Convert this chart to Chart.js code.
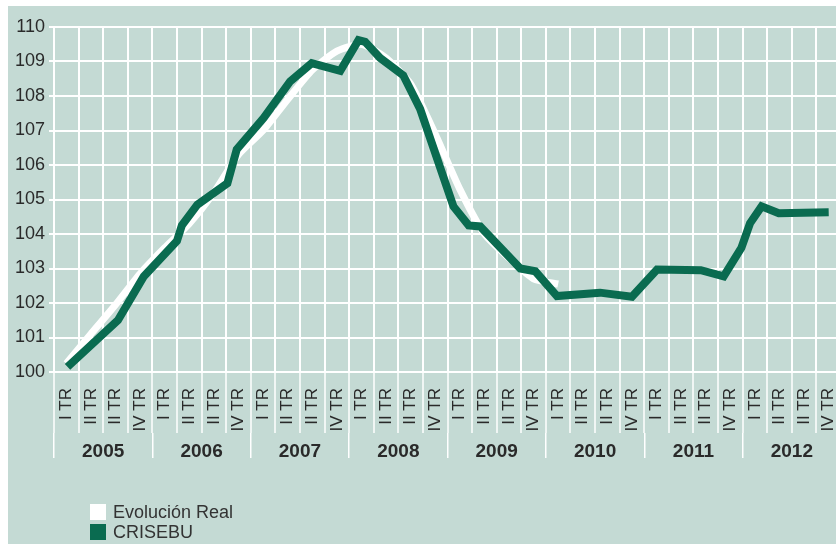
<!DOCTYPE html>
<html lang="es">
<head>
<meta charset="UTF-8">
<title>Evolución Real vs CRISEBU</title>
<script src="https://cdn.jsdelivr.net/npm/chart.js"></script>
<style>
  html, body { margin: 0; padding: 0; background: #fff; width: 836px; height: 544px; overflow: hidden; }
  #panel { position: absolute; left: 8px; top: 6px; width: 828px; height: 538px; background: #c4dad4; overflow: hidden; }
  #wrap { position: absolute; left: 0; top: 0; width: 833px; height: 538px; }
  #legend { position: absolute; left: 82px; top: 496px; font: 18px "Liberation Sans", Arial, sans-serif; color: #333; }
  .item { display: flex; align-items: center; height: 20px; }
  .box { width: 16px; height: 16px; margin-right: 7px; }
</style>
</head>
<body>
<div id="panel">
  <div id="wrap"><canvas id="chart" width="833" height="538"></canvas></div>
  <div id="legend"></div>
</div>
<script>
  // etiquetas del eje X
  const years = ['2005', '2006', '2007', '2008', '2009', '2010', '2011', '2012'];
  const quarterNames = ['I TR', 'II TR', 'II TR', 'IV TR'];

  // Evolución Real: un valor por trimestre (2005 I TR .. 2010 I TR)
  const realValues = [100.25, 101.1, 101.95, 102.85, 103.6, 104.3, 105.2, 106.3, 107.0, 107.9,
                      108.75, 109.3, 109.5, 109.1, 108.35, 106.9, 105.3, 104.0, 103.3, 102.7, 102.55];

  // CRISEBU: posicion en trimestres (0 = inicio 2005) y valor
  const crisebuX = [0.55, 2.6, 3.65, 5.0, 5.2, 5.83, 7.05, 7.43, 8.52, 9.6, 10.48, 11.64, 12.38, 12.65,
                    13.26, 14.2, 14.89, 16.24, 16.86, 17.33, 18.96, 19.57, 20.45, 22.2, 23.5, 24.52,
                    26.3, 27.23, 27.95, 28.3, 28.77, 29.47, 31.5];
  const crisebuY = [100.15, 101.5, 102.77, 103.8, 104.25, 104.85, 105.47, 106.45, 107.36, 108.42, 108.95,
                    108.73, 109.62, 109.57, 109.1, 108.6, 107.62, 104.8, 104.25, 104.22, 103.0, 102.92,
                    102.2, 102.3, 102.18, 102.97, 102.95, 102.77, 103.6, 104.31, 104.8, 104.6, 104.63];

  const quarterLabels = [];
  years.forEach(() => quarterLabels.push(...quarterNames));

  const fontFamily = '"Liberation Sans", Arial, sans-serif';
  const textColor = '#2a2a2a';
  const green = '#0a6b50';

  const datasets = [
    {
      label: 'Evolución Real',
      data: realValues.map((v, i) => ({ x: i + 0.5, y: v })),
      borderColor: '#ffffff',
      backgroundColor: '#ffffff',
      borderWidth: 7,
      tension: 0.2,
      order: 2,
      xAxisID: 'x',
      yAxisID: 'y'
    },
    {
      label: 'CRISEBU',
      data: crisebuX.map((x, i) => ({ x: x, y: crisebuY[i] })),
      borderColor: green,
      backgroundColor: green,
      borderWidth: 8,
      order: 1,
      xAxisID: 'x',
      yAxisID: 'y'
    }
  ];

  const ctx = document.getElementById('chart').getContext('2d');
  const chart = new Chart(ctx, {
    type: 'line',
    data: { datasets: datasets },
    options: {
      responsive: false,
      animation: false,
      layout: { autoPadding: false, padding: { top: 21, right: 0, bottom: 81, left: 0 } },
      plugins: { legend: { display: false }, tooltip: { enabled: false } },
      elements: { point: { radius: 0 }, line: { borderJoinStyle: 'miter', borderCapStyle: 'butt' } },
      scales: {
        x: { type: 'linear', axis: 'x', display: false, min: 0, max: 32 },
        q: {
          type: 'category', axis: 'x', position: 'bottom', weight: 0,
          labels: quarterLabels, min: 0, max: 31, offset: true,
          grid: { offset: true, color: '#ffffff', lineWidth: 2, tickLength: 61, tickWidth: 1.5 },
          border: { display: false },
          ticks: {
            autoSkip: false, maxRotation: 90, minRotation: 90, padding: -45,
            color: textColor, font: { family: fontFamily, size: 17 }
          },
          afterFit: s => { s.height = 61; }
        },
        yr: {
          type: 'category', axis: 'x', position: 'bottom', weight: 1,
          labels: years, min: 0, max: 7, offset: true,
          grid: { offset: true, drawOnChartArea: false, color: '#ffffff', lineWidth: 1.5, tickLength: 25 },
          border: { display: false },
          ticks: {
            autoSkip: false, maxRotation: 0, padding: -18,
            color: textColor, font: { family: fontFamily, size: 19, weight: 'bold' }
          },
          afterFit: s => { s.height = 30; }
        },
        y: {
          min: 100, max: 110,
          ticks: { stepSize: 1, padding: 4, color: textColor, font: { family: fontFamily, size: 18 } },
          grid: { color: '#ffffff', lineWidth: 2, tickLength: 5 },
          border: { color: '#ffffff', width: 2 },
          afterFit: s => { s.width = 46; }
        }
      }
    }
  });

  // leyenda vertical
  const legend = document.getElementById('legend');
  chart.data.datasets.forEach(ds => {
    const item = document.createElement('div');
    item.className = 'item';
    item.innerHTML = '<span class="box" style="background:' + ds.borderColor + '"></span><span>' + ds.label + '</span>';
    legend.appendChild(item);
  });
</script>
</body>
</html>
